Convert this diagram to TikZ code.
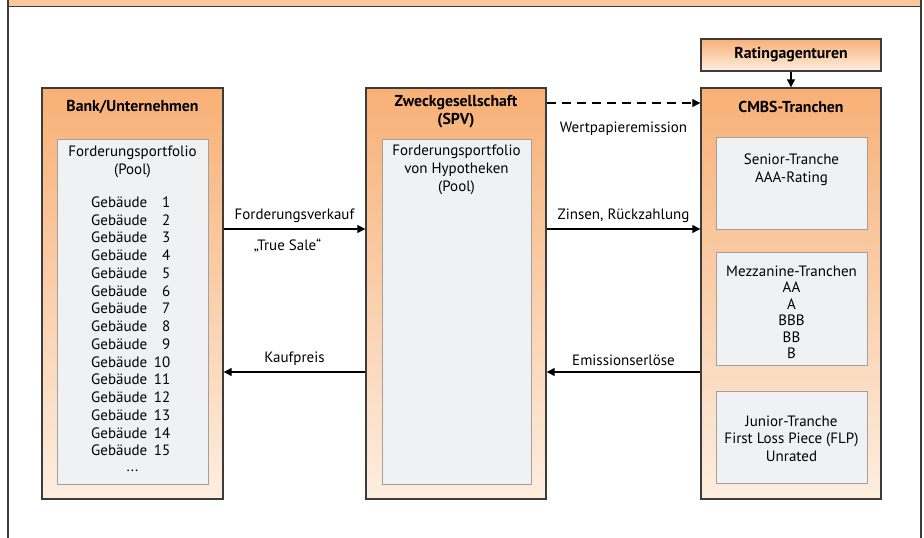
\documentclass[tikz,border=0pt]{standalone}
\usepackage{fontspec}
\setmainfont{PT Sans}
\usepackage{tikz}
\usetikzlibrary{arrows.meta}
\usetikzlibrary{calc}
\usetikzlibrary{positioning}
\definecolor{headorange}{RGB}{252,200,155}
\definecolor{boxtop}{RGB}{248,176,118}
\definecolor{boxbottom}{RGB}{253,238,224}
\definecolor{poolgray}{RGB}{240,241,243}
\definecolor{poolline}{RGB}{160,160,160}
\definecolor{frameline}{RGB}{60,60,60}
\tikzstyle{outerbox} = [draw=frameline, line width=1.4pt, top color=boxtop, bottom color=boxbottom, minimum width=180pt, minimum height=411pt, inner sep=0pt]
\tikzstyle{poolbox} = [draw=poolline, line width=1pt, fill=poolgray, minimum width=151pt, inner sep=0pt]
\tikzstyle{txt} = [align=center, inner sep=0pt, font=\fontsize{15}{17.7}\selectfont]
\tikzstyle{title} = [align=center, inner sep=0pt, font=\fontsize{15.8}{17.5}\selectfont\bfseries]
\tikzstyle{arrow} = [line width=1.2pt, -{Triangle[length=8pt,width=8pt]}]

\begin{document}
\begin{tikzpicture}[x=1pt,y=-1pt]
\useasboundingbox (0,0) rectangle (924,538);

% Frame
\fill[headorange] (8,-2) rectangle (921,6.5);
\draw[frameline, line width=1.4pt] (8,-2) -- (8,540);
\draw[frameline, line width=1.4pt] (921,-2) -- (921,540);
\draw[frameline, line width=1.2pt] (8,6.5) -- (921,6.5);

% Nodes
\node[outerbox, minimum height=32pt] (rating) at (791,55) {};
\node[title] (ratingtxt) at (rating.center) {Ratingagenturen};
\node[outerbox, minimum width=181pt] (bank) at (132.5,293.5) {};
\node[outerbox] (spv) at (456,293.5) {};
\node[outerbox] (cmbs) at (791,293.5) {};

\node[title] (banktxt) at (132.5,107) {Bank/Unternehmen};
\node[title] (spvtxt) at (456,111.5) {Zweckgesellschaft\\(SPV)};
\node[title] (cmbstxt) at (791,107) {CMBS-Tranchen};

\node[poolbox, minimum height=345pt] (pool1) at (132.5,311.5) {};
\node[poolbox, minimum width=149pt, minimum height=345pt] (pool2) at (456.5,311.5) {};
\node[poolbox, minimum height=92pt] (senior) at (791.5,183) {};
\node[poolbox, minimum height=113pt] (mezz) at (791.5,308.5) {};
\node[poolbox, minimum height=92pt] (junior) at (791.5,437) {};

\node[txt] (pool1txt) at (132.5,161.5) {Forderungsportfolio\\(Pool)};
\foreach \i in {1,...,15}
  \node[txt, anchor=west, text width=79pt] (g\i) at (91,{202+17.75*(\i-1)}) {Gebäude\hfill\i};
\node[txt] (dots) at (132.5,471) {...};
\node[txt] (pool2txt) at (456.5,170) {Forderungsportfolio\\von Hypotheken\\(Pool)};
\node[txt, font=\fontsize{15}{18}\selectfont] (seniortxt) at (791.5,170) {Senior-Tranche\\AAA-Rating};
\node[txt, font=\fontsize{15}{16.5}\selectfont] (mezztxt) at (791.5,312) {Mezzanine-Tranchen\\AA\\A\\BBB\\BB\\B};
\node[txt, font=\fontsize{15}{17.5}\selectfont] (juniortxt) at (791.5,438.5) {Junior-Tranche\\First Loss Piece (FLP)\\Unrated};

\coordinate (toprow) at (0,103);
\coordinate (uprow) at (0,229);
\coordinate (lowrow) at (0,372);

% Edges
\draw[arrow] (rating) -- (cmbs);
\draw[arrow, dashed, dash pattern=on 9pt off 6pt] (spv.east |- toprow) -- node[txt, below=18pt] {Wertpapieremission} (cmbs.west |- toprow);
\draw[arrow] (bank.east |- uprow) -- node[txt, above=6pt] {Forderungsverkauf} node[txt, below=9pt, xshift=-7pt] {„True Sale“} (spv.west |- uprow);
\draw[arrow] (spv.east |- uprow) -- node[txt, above=6pt] {Zinsen, Rückzahlung} (cmbs.west |- uprow);
\draw[arrow] (spv.west |- lowrow) -- node[txt, above=6pt] {Kaufpreis} (bank.east |- lowrow);
\draw[arrow] (cmbs.west |- lowrow) -- node[txt, above=6pt] {Emissionserlöse} (spv.east |- lowrow);

\end{tikzpicture}
\end{document}
